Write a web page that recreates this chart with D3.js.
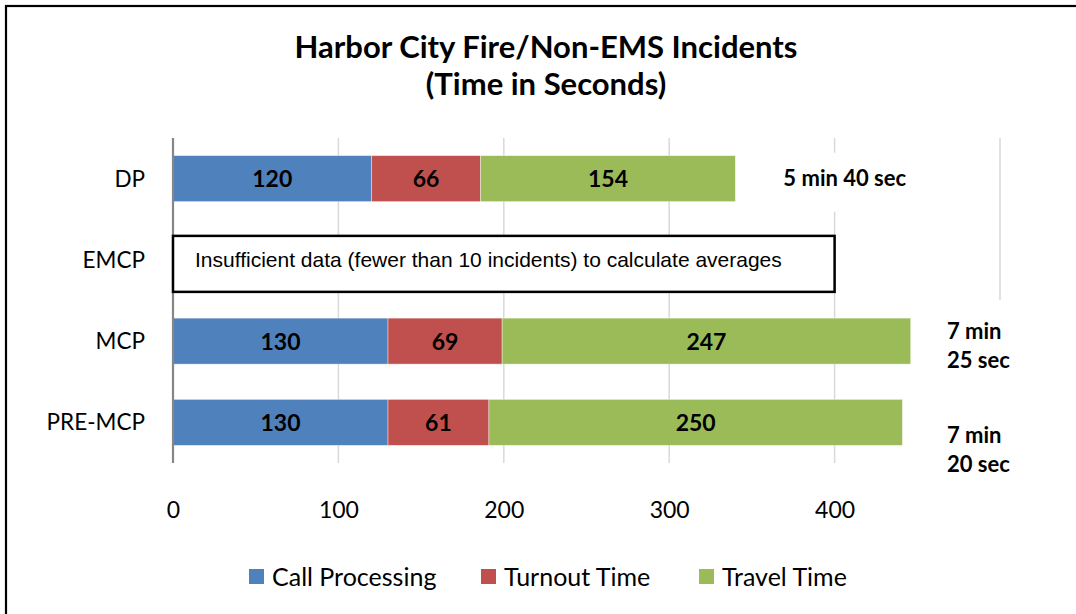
<!DOCTYPE html>
<html>
<head>
<meta charset="utf-8">
<script src="https://cdn.jsdelivr.net/npm/d3@7"></script>
<style>
  html, body { margin: 0; padding: 0; background: #fff; }
  svg { display: block; }
</style>
</head>
<body>
<svg id="chart" width="1076" height="614"></svg>
<script>
// ---- data ----
const categories = ["DP", "EMCP", "MCP", "PRE-MCP"];
const seriesNames = ["Call Processing", "Turnout Time", "Travel Time"];
const callProcessing = [120, null, 130, 130];
const turnoutTime = [66, null, 69, 61];
const travelTime = [154, null, 247, 250];
const totalLabels = [["5 min 40 sec"], null, ["7 min", "25 sec"], ["7 min", "20 sec"]];
const xTicks = [0, 100, 200, 300, 400, 500];
const xTickLabels = ["0", "100", "200", "300", "400", ""];
const noDataCategory = "EMCP";
const noDataText = "Insufficient data (fewer than 10 incidents) to calculate averages";
const noDataExtent = 400;
const titleLines = ["Harbor City Fire/Non-EMS Incidents", "(Time in Seconds)"];
const colors = ["#4F81BD", "#C0504D", "#9BBB59"];

const svg = d3.select("#chart");
const calibri = "Lato, 'Open Sans', sans-serif";

// outer frame
svg.append("rect").attr("x", 6).attr("y", 6).attr("width", 1100).attr("height", 640)
  .attr("fill", "none").attr("stroke", "#000").attr("stroke-width", 2.2);

const x = d3.scaleLinear().domain([0, 500]).range([173, 1000]);
const y = d3.scaleBand().domain(categories).range([138, 463]).paddingInner(0.434).paddingOuter(0.217);

// gridlines
svg.append("g").selectAll("line").data(xTicks.slice(1)).join("line")
  .attr("x1", d => x(d)).attr("x2", d => x(d))
  .attr("y1", 138).attr("y2", 463)
  .attr("stroke", "#d9d9d9").attr("stroke-width", 1.5);

// tick labels via axis
const axis = d3.axisBottom(x).tickValues(xTicks).tickFormat((d, i) => xTickLabels[i]).tickSize(0).tickPadding(0);
const ax = svg.append("g").attr("transform", "translate(0,502)").call(axis);
ax.select(".domain").remove();
ax.selectAll("text").attr("font-family", calibri).attr("font-size", 23).attr("fill", "#000").attr("dy", "0.71em");

// stacked data
const rows = categories.map((c, i) => ({cat: c, vals: [callProcessing[i], turnoutTime[i], travelTime[i]]}));
const stackRows = rows.filter(r => r.vals[0] != null).map(r => {
  const o = {cat: r.cat};
  seriesNames.forEach((s, k) => o[s] = r.vals[k]);
  return o;
});
const stack = d3.stack().keys(seriesNames)(stackRows);

const bw = y.bandwidth();
const layers = svg.append("g").selectAll("g").data(stack).join("g").attr("fill", (d, i) => colors[i]);
layers.selectAll("rect").data(d => d).join("rect")
  .attr("x", d => x(d[0])).attr("width", d => x(d[1]) - x(d[0]))
  .attr("y", d => y(d.data.cat)).attr("height", bw)
  .attr("stroke", "rgba(255,255,255,0.5)").attr("stroke-width", 0.8);

layers.selectAll("text").data(d => d).join("text")
  .attr("x", d => (x(d[0]) + x(d[1])) / 2)
  .attr("y", d => y(d.data.cat) + bw / 2)
  .attr("dy", "0.38em")
  .attr("text-anchor", "middle")
  .attr("font-family", calibri).attr("font-weight", "bold").attr("font-size", 23)
  .attr("fill", "#000")
  .text(d => d[1] - d[0]);

// axis line
svg.append("line").attr("x1", x(0)).attr("x2", x(0)).attr("y1", 138).attr("y2", 463)
  .attr("stroke", "#868686").attr("stroke-width", 2.2);

// category labels
svg.append("g").selectAll("text").data(categories).join("text")
  .attr("x", 145).attr("y", d => y(d) + bw / 2).attr("dy", "0.36em")
  .attr("text-anchor", "end")
  .attr("font-family", calibri).attr("font-size", 22.5).attr("fill", "#000")
  .text(d => d);

// no-data box
svg.append("rect")
  .attr("x", x(0)).attr("width", x(noDataExtent) - x(0))
  .attr("y", y(noDataCategory) - 1).attr("height", bw + 10)
  .attr("fill", "#fff").attr("stroke", "#000").attr("stroke-width", 2.5);
svg.append("text")
  .attr("x", x(0) + 22).attr("y", y(noDataCategory) + 30)
  .attr("font-family", "'Liberation Sans', Arial, sans-serif").attr("font-size", 21).attr("fill", "#000")
  .text(noDataText);

// total labels (with white text-box backgrounds)
const tl = svg.append("g");
categories.forEach((c, i) => {
  const lines = totalLabels[i];
  if (!lines) return;
  const total = callProcessing[i] + turnoutTime[i] + travelTime[i];
  if (lines.length === 1) {
    tl.append("rect").attr("x", x(total) + 28).attr("y", y(c) - 3).attr("width", 150).attr("height", bw + 13).attr("fill", "#fff");
    tl.append("text").attr("x", x(total) + 48).attr("y", y(c) + bw / 2 - 1).attr("dy", "0.36em")
      .attr("font-family", calibri).attr("font-weight", "bold").attr("font-size", 22).text(lines[0]);
  } else {
    tl.append("rect").attr("x", 935).attr("y", y(c) - 18).attr("width", 100).attr("height", bw + 36).attr("fill", "#fff");
    const off = (c === "MCP") ? 4 : 27;
    lines.forEach((l, k) => {
      tl.append("text").attr("x", 947).attr("y", y(c) + bw / 2 + off + (k - 0.5) * 29).attr("dy", "0.36em")
        .attr("font-family", calibri).attr("font-weight", "bold").attr("font-size", 22).text(l);
    });
  }
});

// title
svg.append("g").selectAll("text").data(titleLines).join("text")
  .attr("x", 546).attr("y", (d, i) => 58 + i * 37)
  .attr("text-anchor", "middle")
  .attr("font-family", calibri).attr("font-weight", "bold").attr("font-size", 31).attr("fill", "#000")
  .text(d => d);

// legend
const legendX = [249, 481, 699];
const lg = svg.append("g").selectAll("g").data(seriesNames).join("g")
  .attr("transform", (d, i) => `translate(${legendX[i]},569)`);
lg.append("rect").attr("width", 15).attr("height", 15).attr("fill", (d, i) => colors[i]);
lg.append("text").attr("x", 23).attr("y", 8).attr("dy", "0.36em")
  .attr("font-family", calibri).attr("font-size", 25).attr("fill", "#000").text(d => d);
</script>
</body>
</html>
